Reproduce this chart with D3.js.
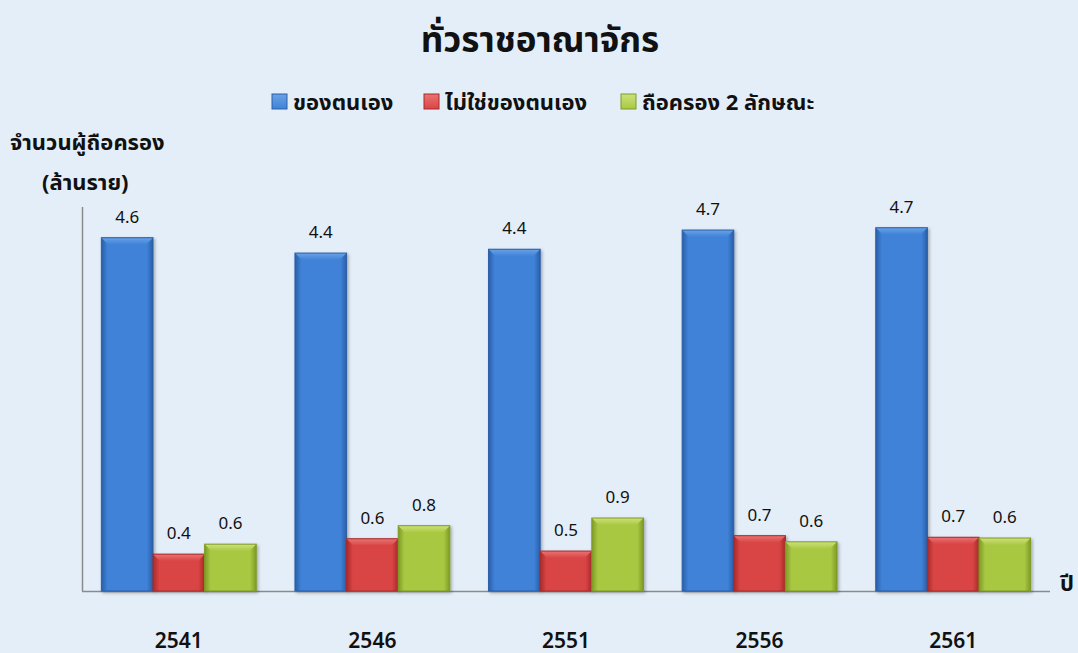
<!DOCTYPE html>
<html><head><meta charset="utf-8">
<script src="https://cdn.jsdelivr.net/npm/d3@7"></script>
<style>
body{margin:0;background:#e4eef8;}
svg{display:block;font-family:"Noto Sans","Noto Sans Thai",Tahoma,sans-serif;}
</style></head><body>
<svg id="c" width="1078" height="653"></svg>
<script>
const years = ["2541","2546","2551","2556","2561"];
const seriesNames = ["ของตนเอง","ไม่ใช่ของตนเอง","ถือครอง 2 ลักษณะ"];
const own    = [4.60, 4.40, 4.45, 4.70, 4.73];
const notOwn = [0.48, 0.68, 0.52, 0.72, 0.70];
const both   = [0.61, 0.85, 0.95, 0.64, 0.69];
const colors = [
  {mid:"#3f82d8", dark:"#2a5ea8", light:"#6aa2e6"},
  {mid:"#d94444", dark:"#a82a2a", light:"#ea7474"},
  {mid:"#a9c842", dark:"#7e9a26", light:"#cde27a"}
];
const series = [own, notOwn, both];

const svg = d3.select("#c");
const W = 1078, H = 653;
svg.append("rect").attr("width",W).attr("height",H).attr("fill","#e4eef8");

const x0 = d3.scaleBand().domain(years).range([82,1050]).paddingInner(0.2).paddingOuter(0.1);
const x1 = d3.scaleBand().domain(d3.range(3)).range([0,x0.bandwidth()]);
const y = d3.scaleLinear().domain([0,5]).range([591,207]);

const defs = svg.append("defs");
colors.forEach((c,i)=>{
  const g = defs.append("linearGradient").attr("id","g"+i).attr("x1","0").attr("x2","1").attr("y1","0").attr("y2","0");
  g.append("stop").attr("offset","0").attr("stop-color",c.dark);
  g.append("stop").attr("offset","0.12").attr("stop-color",c.mid);
  g.append("stop").attr("offset","0.88").attr("stop-color",c.mid);
  g.append("stop").attr("offset","1").attr("stop-color",c.dark);
  const t = defs.append("linearGradient").attr("id","t"+i).attr("x1","0").attr("x2","0").attr("y1","0").attr("y2","1");
  t.append("stop").attr("offset","0").attr("stop-color",c.light);
  t.append("stop").attr("offset","1").attr("stop-color",c.mid);
});
const sh = defs.append("filter").attr("id","sh").attr("x","-20%").attr("y","-20%").attr("width","140%").attr("height","140%");
sh.append("feDropShadow").attr("dx",1.5).attr("dy",1.5).attr("stdDeviation",1.5).attr("flood-color","#000").attr("flood-opacity",0.3);

// axes lines
svg.append("line").attr("x1",82.5).attr("x2",82.5).attr("y1",y(5)).attr("y2",591).attr("stroke","#8a8a8a").attr("stroke-width",1.5);
svg.append("line").attr("x1",82).attr("x2",1050).attr("y1",591.5).attr("y2",591.5).attr("stroke","#8a8a8a").attr("stroke-width",1.5);

const fmt = v => (Math.floor(v*10+1e-9)/10).toFixed(1);

years.forEach((yr,j)=>{
  const g = svg.append("g").attr("transform",`translate(${x0(yr)},0)`);
  series.forEach((s,i)=>{
    const v = s[j];
    const bx = x1(i), bw = x1.bandwidth(), by = y(v), bh = y(0)-y(v);
    const bar = g.append("g").attr("filter","url(#sh)");
    bar.append("rect").attr("x",bx).attr("y",by).attr("width",bw).attr("height",bh).attr("fill",`url(#g${i})`);
    const bev = Math.min(7, bh/2);
    bar.append("path").attr("d",`M${bx},${by}L${bx+bw},${by}L${bx+bw-bev},${by+bev}L${bx+bev},${by+bev}Z`).attr("fill",`url(#t${i})`);
    bar.append("rect").attr("x",bx).attr("y",by).attr("width",bw).attr("height",bh).attr("fill","none").attr("stroke",colors[i].dark).attr("stroke-width",1);
    g.append("text").attr("x",bx+bw/2).attr("y",by-15).attr("text-anchor","middle")
      .attr("font-size",17).attr("fill","#111").text(fmt(v));
  });
  svg.append("text").attr("x",x0(yr)+x0.bandwidth()/2).attr("y",648).attr("text-anchor","middle")
    .attr("font-size",21).attr("font-weight","600").attr("fill","#111").text(yr);
});

// title
svg.append("text").attr("x",540).attr("y",52).attr("text-anchor","middle").attr("font-size",35).attr("font-weight","bold").attr("fill","#111").text("ทั่วราชอาณาจักร");

// legend
const legX = [272, 424, 621];
seriesNames.forEach((n,i)=>{
  const lg = svg.append("g").attr("transform",`translate(${legX[i]},94)`);
  lg.append("rect").attr("width",15).attr("height",15).attr("fill",`url(#t${i})`).attr("stroke",colors[i].dark);
  lg.append("text").attr("x",21).attr("y",16).attr("font-size",22).attr("font-weight","bold").attr("fill","#111").text(n);
});

// y axis label
svg.append("text").attr("x",10).attr("y",150).attr("font-size",22).attr("font-weight","bold").attr("fill","#111").text("จำนวนผู้ถือครอง");
svg.append("text").attr("x",42).attr("y",190).attr("font-size",22).attr("font-weight","bold").attr("fill","#111").text("(ล้านราย)");
// x axis label
svg.append("text").attr("x",1060).attr("y",591).attr("font-size",22).attr("font-weight","bold").attr("fill","#111").text("ปี");
</script>
</body></html>
